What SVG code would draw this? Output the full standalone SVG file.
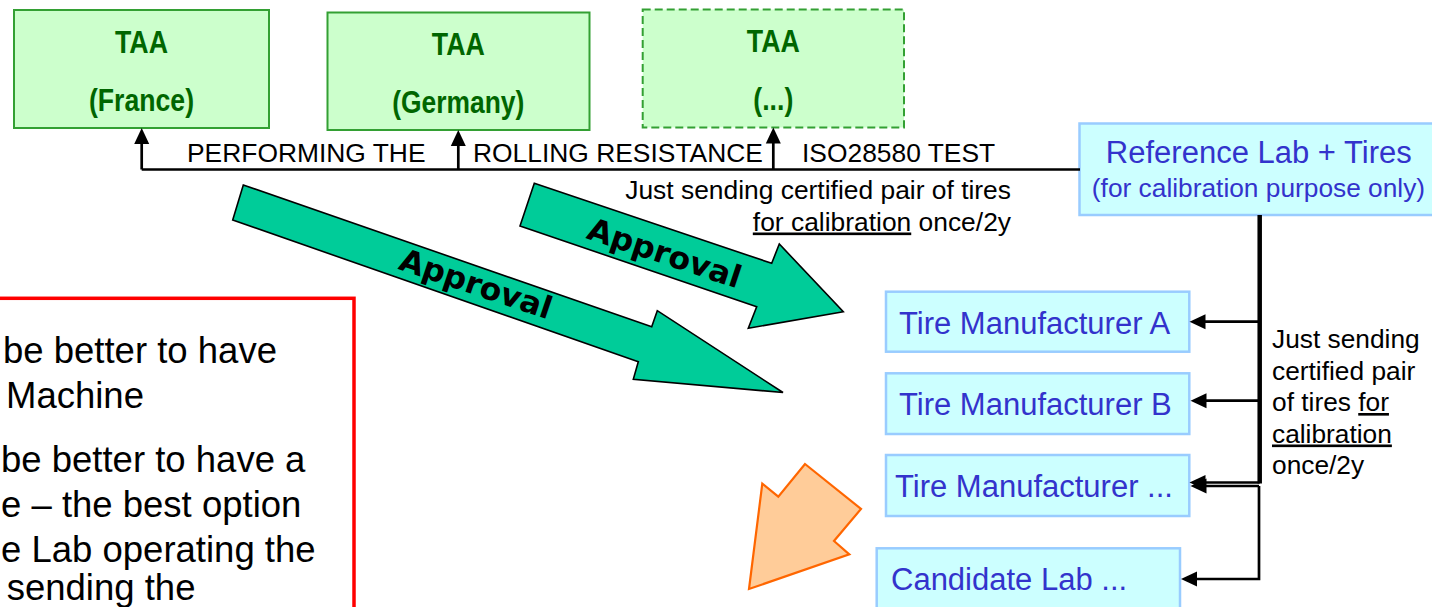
<svg xmlns="http://www.w3.org/2000/svg" width="1432" height="607" viewBox="0 0 1432 607">
  <style>
    .taa rect { fill: #CCFFCC; stroke: #33A033; stroke-width: 2; }
    .taa text { font-family: "Liberation Sans", Arial, sans-serif; font-weight: bold; font-size: 32px; fill: #006600; text-anchor: middle; }
    .lab rect { fill: #CCFFFF; stroke: #99CCFF; stroke-width: 2.5; }
    .lab text { font-family: "Liberation Sans", Arial, sans-serif; font-size: 31px; fill: #3333CC; }
    .lbl { font-family: "Liberation Sans", Arial, sans-serif; font-size: 26.4px; fill: #000; }
    .note { font-family: "Liberation Sans", Arial, sans-serif; font-size: 36.5px; fill: #000; }
    .conn { fill: none; stroke: #000; stroke-width: 2.7; }
    .tip { fill: #000; stroke: none; }
    .approval { fill: #00CC99; stroke: #000; stroke-width: 1.6; stroke-linejoin: miter; }
    .approval-txt { font-family: "DejaVu Sans", Verdana, sans-serif; font-weight: bold; font-size: 31px; fill: #000; text-anchor: middle; }
  </style>
  <defs>
    <!-- arrowhead pointing up / left, tip at the origin -->
    <path id="tip-up" class="tip" d="M0 0 L7.5 16 L-7.5 16 z"/>
    <path id="tip-left" class="tip" d="M0 0 L16 -7.5 L16 7.5 z"/>
  </defs>

  <rect width="1432" height="607" fill="#FFFFFF"/>

  <!-- Type approval authorities -->
  <g id="taa-france" class="taa">
    <rect x="14" y="10" width="255" height="118"/>
    <text x="141.5" y="52.5" textLength="53" lengthAdjust="spacingAndGlyphs">TAA</text>
    <text x="141.5" y="110.5" textLength="105" lengthAdjust="spacingAndGlyphs">(France)</text>
  </g>
  <g id="taa-germany" class="taa">
    <rect x="327.5" y="12.5" width="262" height="117.5"/>
    <text x="458.3" y="55" textLength="53" lengthAdjust="spacingAndGlyphs">TAA</text>
    <text x="458.3" y="112.7" textLength="132" lengthAdjust="spacingAndGlyphs">(Germany)</text>
  </g>
  <g id="taa-other" class="taa">
    <rect x="642.7" y="9.5" width="261.3" height="118" stroke-dasharray="8 4"/>
    <text x="773.3" y="52.3" textLength="53" lengthAdjust="spacingAndGlyphs">TAA</text>
    <text x="773.3" y="110" textLength="40" lengthAdjust="spacingAndGlyphs">(...)</text>
  </g>

  <!-- Reference laboratory -->
  <g id="ref-lab" class="lab">
    <rect x="1079.5" y="123.5" width="360" height="91.5"/>
    <text x="1258.8" y="163.3" text-anchor="middle">Reference Lab + Tires</text>
    <text x="1258.5" y="196.7" text-anchor="middle" style="font-size:26.3px">(for calibration purpose only)</text>
  </g>

  <!-- Manufacturers and candidate labs -->
  <g id="tire-a" class="lab">
    <rect x="886" y="291.7" width="303.3" height="60"/>
    <text x="899" y="334">Tire Manufacturer A</text>
  </g>
  <g id="tire-b" class="lab">
    <rect x="886" y="373.3" width="303.3" height="60.7"/>
    <text x="899" y="415">Tire Manufacturer B</text>
  </g>
  <g id="tire-other" class="lab">
    <rect x="886" y="455" width="303.3" height="61"/>
    <text x="895" y="497.3">Tire Manufacturer ...</text>
  </g>
  <g id="candidate-lab" class="lab">
    <rect x="876.7" y="548.3" width="303.3" height="70"/>
    <text x="891" y="590">Candidate Lab ...</text>
  </g>

  <!-- Connectors -->
  <g id="connectors">
    <path class="conn" d="M1080 169.5 H141.7"/>
    <path class="conn" d="M141.7 169.5 V140"/>
    <use href="#tip-up" x="141.7" y="128"/>
    <path class="conn" d="M458.3 169.5 V142"/>
    <use href="#tip-up" x="458.3" y="130"/>
    <path class="conn" d="M773.3 169.5 V140"/>
    <use href="#tip-up" x="773.3" y="127.5"/>

    <path class="conn" d="M1259.7 215 V483.5" style="stroke-width:4.5"/>
    <path class="conn" d="M1259.7 321.7 H1200"/>
    <use href="#tip-left" x="1189.5" y="321.7"/>
    <path class="conn" d="M1259.7 400.7 H1200"/>
    <use href="#tip-left" x="1190.5" y="400.7"/>
    <path class="conn" d="M1259.7 482.5 H1200"/>
    <use href="#tip-left" x="1189.5" y="482.5"/>
    <path class="conn" d="M1259 486 H1200"/>
    <use href="#tip-left" x="1190.5" y="486"/>
    <path class="conn" d="M1259 486 V579 H1192"/>
    <use href="#tip-left" x="1181" y="579"/>
  </g>

  <!-- Connector labels -->
  <g id="labels">
    <text class="lbl" x="187" y="162">PERFORMING THE</text>
    <text class="lbl" x="473" y="162">ROLLING RESISTANCE</text>
    <text class="lbl" x="802" y="162">ISO28580 TEST</text>
    <text class="lbl" x="1011" y="198.5" text-anchor="end">Just sending certified pair of tires</text>
    <text class="lbl" x="1011" y="230.5" text-anchor="end"><tspan text-decoration="underline">for calibration</tspan> once/2y</text>
    <text class="lbl" style="font-size:26.3px">
      <tspan x="1272" y="348">Just sending</tspan>
      <tspan x="1272" y="379.5">certified pair</tspan>
      <tspan x="1272" y="411">of tires <tspan text-decoration="underline">for</tspan></tspan>
      <tspan x="1272" y="442.5" text-decoration="underline">calibration</tspan>
      <tspan x="1272" y="474">once/2y</tspan>
    </text>
  </g>

  <!-- Approval arrows -->
  <g id="approval-lower">
    <polygon class="approval" points="243.3,185 651.7,326.7 657.3,310.7 783,392.5 633.3,379.3 638.3,361.7 232.7,220"/>
    <text class="approval-txt" transform="translate(472.5 294.2) rotate(18.6)" textLength="159" lengthAdjust="spacingAndGlyphs">Approval</text>
  </g>
  <g id="approval-upper">
    <polygon class="approval" points="534.3,183.3 771.7,263.3 779.3,244 843.3,311.7 748.3,328.3 756.7,306.7 520,226"/>
    <text class="approval-txt" transform="translate(661.2 263.3) rotate(18.4)" textLength="160" lengthAdjust="spacingAndGlyphs">Approval</text>
  </g>

  <!-- Orange arrow -->
  <g id="orange-arrow">
    <polygon points="805,464 861,509 834,541 849.3,554.3 749,589 762.3,483.7 778.3,496.7" fill="#FFCC99" stroke="#FF6600" stroke-width="2.2" stroke-linejoin="miter"/>
  </g>

  <!-- Note box -->
  <g id="note-box">
    <rect x="-10" y="298.3" width="364" height="330" fill="none" stroke="#FF0000" stroke-width="3.5"/>
    <text class="note">
      <tspan x="3" y="362.7">be better to have</tspan>
      <tspan x="6" y="407.7">Machine</tspan>
      <tspan x="1" y="471.7">be better to have a</tspan>
      <tspan x="1" y="516.7">e – the best option</tspan>
      <tspan x="1" y="561.7">e Lab operating the</tspan>
      <tspan x="6.7" y="600">sending the</tspan>
    </text>
  </g>
</svg>
